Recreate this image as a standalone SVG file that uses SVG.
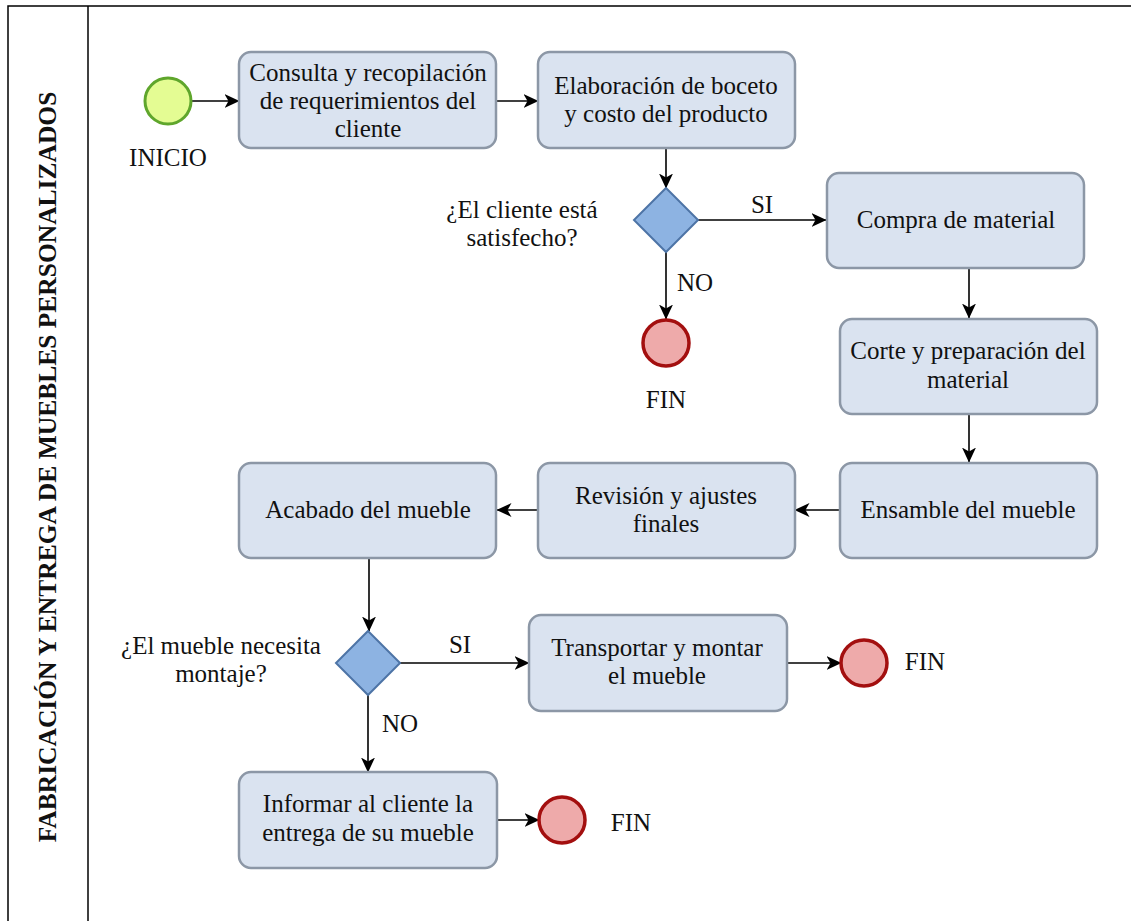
<svg xmlns="http://www.w3.org/2000/svg" width="1131" height="921" viewBox="0 0 1131 921">
<defs>
<marker id="arr" markerUnits="userSpaceOnUse" markerWidth="15" markerHeight="14" viewBox="0 0 15 14" refX="14.5" refY="7" orient="auto">
<path d="M0,0 L15,7 L0,14 L4,7 Z" fill="#000"/>
</marker>
</defs>
<style>
.task{fill:#dae3f0;stroke:#8c97a6;stroke-width:2.5}
.dec{fill:#8db3e2;stroke:#4d74a6;stroke-width:2}
.start{fill:#e4fc93;stroke:#5fa62c;stroke-width:3}
.end{fill:#eeaaaa;stroke:#a30f0f;stroke-width:3.5}
.t{font-family:"Liberation Serif","Times New Roman",serif;font-size:25px;fill:#111;text-anchor:middle}
.c{fill:none;stroke:#000;stroke-width:1.6;marker-end:url(#arr)}
.lane{fill:none;stroke:#000;stroke-width:1.5}
</style>
<rect width="1131" height="921" fill="#fff"/>
<g id="pool">
<rect class="lane" x="8" y="6" width="1140" height="930"/>
<line class="lane" x1="88" y1="6" x2="88" y2="921"/>
<text transform="translate(56,467) rotate(-90)" text-anchor="middle" font-family="Liberation Serif,'Times New Roman',serif" font-weight="bold" font-size="25.5" fill="#111">FABRICACIÓN Y ENTREGA DE MUEBLES PERSONALIZADOS</text>
</g>
<g id="connectors">
<line class="c" x1="191" y1="101" x2="239" y2="101"/>
<line class="c" x1="496" y1="101" x2="538" y2="101"/>
<line class="c" x1="666" y1="148" x2="666" y2="188"/>
<line class="c" x1="698" y1="220" x2="826" y2="220"/>
<line class="c" x1="666" y1="252" x2="666" y2="319"/>
<line class="c" x1="969" y1="268" x2="969" y2="318"/>
<line class="c" x1="969" y1="414" x2="969" y2="462"/>
<line class="c" x1="840" y1="510" x2="795" y2="510"/>
<line class="c" x1="538" y1="510" x2="497" y2="510"/>
<line class="c" x1="369" y1="558" x2="369" y2="631"/>
<line class="c" x1="400" y1="663" x2="529" y2="663"/>
<line class="c" x1="787" y1="663" x2="841" y2="663"/>
<line class="c" x1="368" y1="695" x2="368" y2="772"/>
<line class="c" x1="497" y1="820" x2="539" y2="820"/>
<text class="t" x="762" y="213">SI</text>
<text class="t" x="695" y="291">NO</text>
<text class="t" x="460" y="653">SI</text>
<text class="t" x="400" y="732">NO</text>
</g>
<g id="inicio">
<circle class="start" cx="168" cy="101" r="23"/>
<text class="t" x="168" y="166">INICIO</text>
</g>
<g id="consulta">
<rect class="task" x="239" y="52" width="257" height="96" rx="12"/>
<text class="t" x="368" y="81">Consulta y recopilación</text>
<text class="t" x="368" y="109">de requerimientos del</text>
<text class="t" x="368" y="137">cliente</text>
</g>
<g id="boceto">
<rect class="task" x="538" y="52" width="257" height="96" rx="12"/>
<text class="t" x="666" y="94">Elaboración de boceto</text>
<text class="t" x="666" y="122">y costo del producto</text>
</g>
<g id="dec1">
<polygon class="dec" points="666,188 698,220 666,252 634,220"/>
<text class="t" x="522" y="218">¿El cliente está</text>
<text class="t" x="522" y="246">satisfecho?</text>
</g>
<g id="fin1">
<circle class="end" cx="666" cy="343" r="23"/>
<text class="t" x="666" y="408">FIN</text>
</g>
<g id="compra">
<rect class="task" x="827" y="173" width="257" height="95" rx="12"/>
<text class="t" x="956" y="228">Compra de material</text>
</g>
<g id="corte">
<rect class="task" x="840" y="319" width="257" height="95" rx="12"/>
<text class="t" x="968" y="359">Corte y preparación del</text>
<text class="t" x="968" y="388">material</text>
</g>
<g id="ensamble">
<rect class="task" x="840" y="463" width="257" height="95" rx="12"/>
<text class="t" x="968" y="518">Ensamble del mueble</text>
</g>
<g id="revision">
<rect class="task" x="538" y="463" width="257" height="95" rx="12"/>
<text class="t" x="666" y="504">Revisión y ajustes</text>
<text class="t" x="666" y="532">finales</text>
</g>
<g id="acabado">
<rect class="task" x="239" y="463" width="257" height="95" rx="12"/>
<text class="t" x="368" y="518">Acabado del mueble</text>
</g>
<g id="dec2">
<polygon class="dec" points="368,631 400,663 368,695 336,663"/>
<text class="t" x="221" y="654">¿El mueble necesita</text>
<text class="t" x="221" y="682">montaje?</text>
</g>
<g id="transportar">
<rect class="task" x="529" y="615" width="258" height="96" rx="12"/>
<text class="t" x="657" y="656">Transportar y montar</text>
<text class="t" x="657" y="684">el mueble</text>
</g>
<g id="fin2">
<circle class="end" cx="864" cy="663" r="23"/>
<text class="t" x="925" y="670">FIN</text>
</g>
<g id="informar">
<rect class="task" x="239" y="772" width="258" height="96" rx="12"/>
<text class="t" x="368" y="812">Informar al cliente la</text>
<text class="t" x="368" y="841">entrega de su mueble</text>
</g>
<g id="fin3">
<circle class="end" cx="562" cy="820" r="23"/>
<text class="t" x="631" y="831">FIN</text>
</g>
</svg>
